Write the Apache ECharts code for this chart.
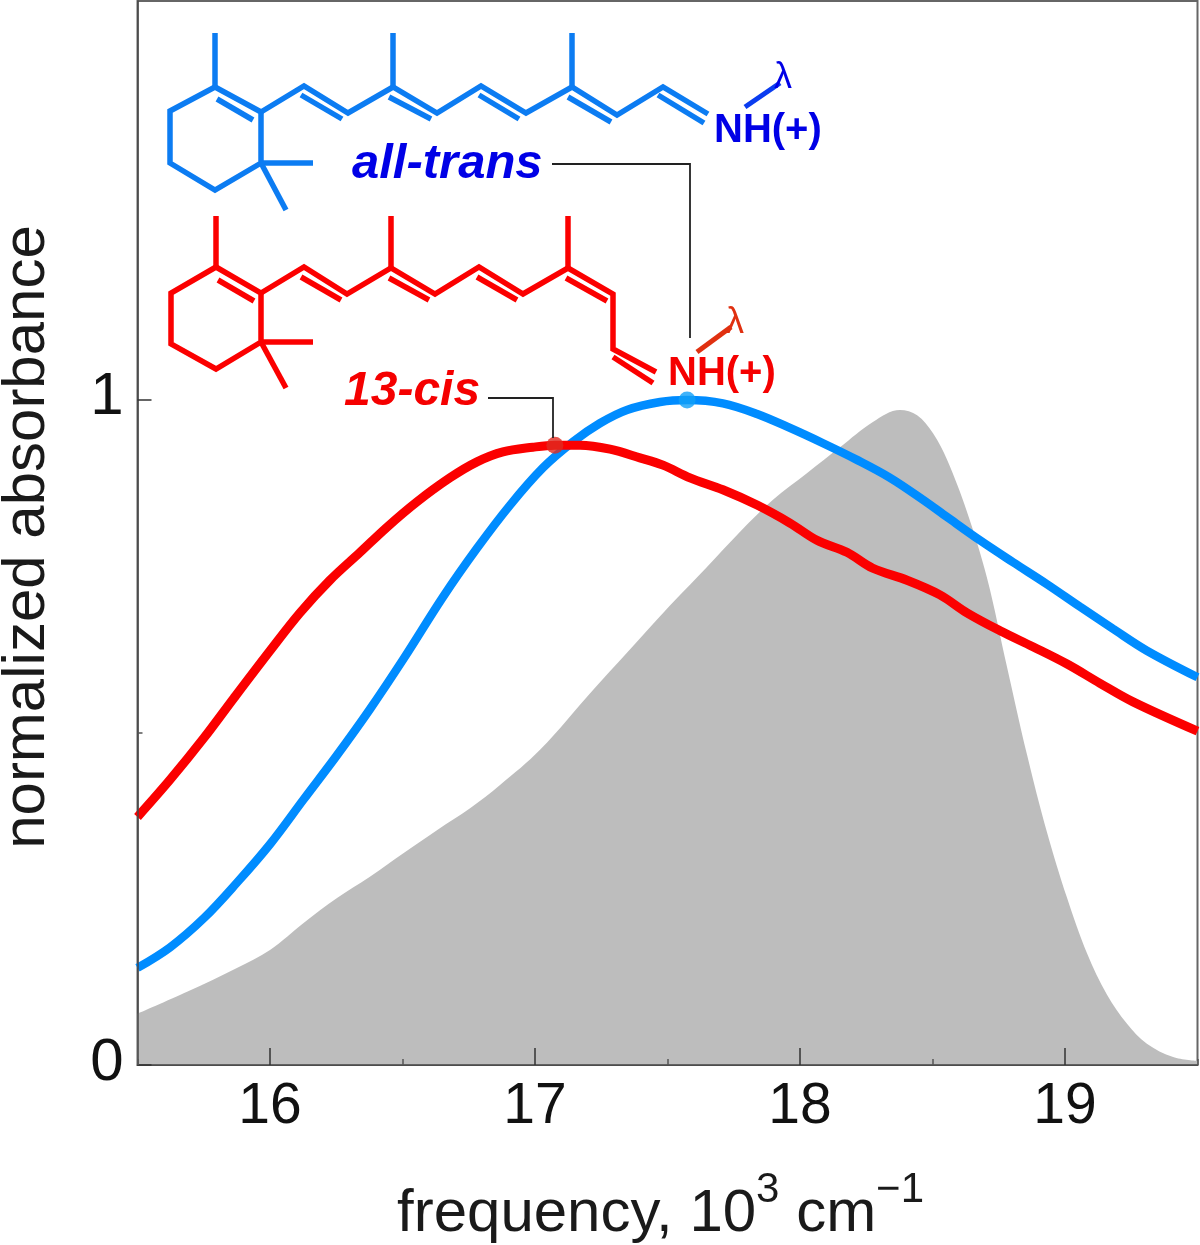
<!DOCTYPE html>
<html><head><meta charset="utf-8">
<style>html,body{margin:0;padding:0;background:#fff}#c{width:1200px;height:1245px}</style>
<script src="https://cdn.jsdelivr.net/npm/echarts@6/dist/echarts.min.js"></script>
</head><body><div id="c"></div>
<script>
const xTicks=[16,17,18,19];
const xMinorTicks=[15.5,16.5,17.5,18.5,19.5];
const yTicks=[0,1];
const yMinorTicks=[0.5];
const allTrans=[[15.5,0.146],[15.623,0.177],[15.751,0.221],[15.875,0.274],[16.0,0.332],[16.128,0.400],[16.253,0.466],[16.377,0.535],[16.506,0.612],[16.653,0.704],[16.781,0.777],[16.906,0.842],[17.030,0.898],[17.143,0.937],[17.245,0.965],[17.347,0.985],[17.472,0.997],[17.574,1.0],[17.709,0.995],[17.838,0.979],[17.962,0.958],[18.087,0.935],[18.215,0.910],[18.340,0.883],[18.464,0.850],[18.555,0.824],[18.679,0.789],[18.804,0.756],[18.932,0.723],[19.057,0.689],[19.181,0.656],[19.309,0.623],[19.5,0.583]];
const cis13=[[15.5,0.373],[15.623,0.429],[15.751,0.492],[15.864,0.552],[16.0,0.623],[16.113,0.680],[16.226,0.729],[16.340,0.771],[16.442,0.809],[16.555,0.847],[16.679,0.883],[16.781,0.907],[16.879,0.922],[16.992,0.929],[17.075,0.932],[17.170,0.932],[17.283,0.926],[17.396,0.913],[17.483,0.902],[17.585,0.883],[17.709,0.865],[17.838,0.842],[17.962,0.815],[18.064,0.789],[18.177,0.771],[18.275,0.747],[18.404,0.729],[18.528,0.707],[18.630,0.680],[18.755,0.653],[18.879,0.629],[19.008,0.603],[19.132,0.574],[19.257,0.546],[19.5,0.502]];
const greyBand=[[15.5,0.077],[15.687,0.110],[15.875,0.146],[16.0,0.173],[16.128,0.214],[16.253,0.251],[16.377,0.283],[16.506,0.319],[16.630,0.353],[16.755,0.386],[16.868,0.421],[17.019,0.474],[17.219,0.564],[17.347,0.620],[17.472,0.675],[17.521,0.696],[17.649,0.749],[17.774,0.802],[17.898,0.850],[18.026,0.890],[18.151,0.929],[18.275,0.967],[18.377,0.985],[18.442,0.977],[18.502,0.950],[18.555,0.910],[18.630,0.832],[18.706,0.732],[18.781,0.599],[18.857,0.466],[18.932,0.350],[19.008,0.251],[19.083,0.168],[19.158,0.106],[19.234,0.062],[19.309,0.032],[19.408,0.012],[19.5,0.006]];
const peakAllTrans=[[17.574,1.0]];
const peakCis=[[17.075,0.932]];

const FONT='"Liberation Sans", Arial, sans-serif';
const BLUE='#008cff', RED='#fb0000', MOLBLUE='#0c7cf2', TXTBLUE='#0000e6';

// structural-formula artwork (pixel layout of the annotation)
const blueBonds=[
 [[215,87],[261,112],[261,163],[215,190],[170,163],[170,111],[215,87]],
 [[215,33],[215,87]],[[217,99],[253,120]],
 [[261,112],[304,86],[348,113],[393,87],[437,113],[481,86],[526,113],[572,87],[617,115],[663,87],[708,114]],
 [[301,95],[342,119]],[[389,97],[431,119]],[[479,95],[519,119]],[[568,97],[611,122]],[[658,95],[704,123]],
 [[393,33],[393,87]],[[572,33],[572,87]],
 [[261,163],[313,163]],[[261,163],[286,210]]
];
const redBonds=[
 [[216,267],[261,293],[261,342],[216,369],[171,344],[171,293],[216,267]],
 [[216,216],[216,267]],[[218,280],[254,301]],
 [[261,293],[304,267],[347,294],[391,268],[435,294],[479,267],[523,294],[568,268],[613,294],[613,349],[656,372]],
 [[301,277],[341,300]],[[389,278],[429,300]],[[477,277],[517,300]],[[566,278],[607,301]],[[613,357],[653,383]],
 [[391,216],[391,268]],[[568,216],[568,268]],
 [[261,342],[313,342]],[[261,342],[286,388]]
];
const poly=(pts,color,w)=>({type:'polyline',z:20,shape:{points:pts},style:{stroke:color,lineWidth:w,fill:null,lineJoin:'miter'}});
const txt=(s,x,y,size,color,italic)=>({type:'text',z:21,x,y,style:{text:s,font:`${italic?'italic ':''}bold ${size}px ${FONT}`,fill:color,textAlign:'left',textVerticalAlign:'middle'}});
const graphics=[
 ...blueBonds.map(p=>poly(p,MOLBLUE,5.5)),
 ...redBonds.map(p=>poly(p,RED,5.5)),
 poly([[745,107],[780,83]],'#0a3cf0',5),
 poly([[697,352],[731,327]],'#e03010',5),
 {type:'text',z:21,x:783,y:78,style:{text:'λ',font:`36px ${FONT}`,fill:'#0000e6',textAlign:'center',textVerticalAlign:'middle'}},
 {type:'text',z:21,x:735,y:323,style:{text:'λ',font:`36px ${FONT}`,fill:'#e03010',textAlign:'center',textVerticalAlign:'middle'}},
 txt('NH(+)',714,131,40,TXTBLUE,false),
 txt('NH(+)',668,374,40,'#f50000',false),
 txt('all-trans',352,164,49,TXTBLUE,true),
 txt('13-cis',344,392,48,'#f50000',true),
 poly([[552,164],[690,164],[690,338]],'#222',1.8),
 poly([[488,398],[553,398],[553,438]],'#222',1.8)
];

const baseX={type:'value',min:15.5,max:19.5,axisLine:{show:false},splitLine:{show:false},z:10};
const baseY={type:'value',min:0,max:1.6,axisLine:{show:false},splitLine:{show:false},z:10};
const chart=echarts.init(document.getElementById('c'),null,{renderer:'canvas'});
chart.setOption({
 animation:false,backgroundColor:'#fff',
 grid:{left:137.5,right:2.5,top:1,bottom:180,outerBoundsMode:'none',containLabel:false,show:true,borderColor:'#666',borderWidth:2,backgroundColor:'transparent'},
 xAxis:[
  {...baseX,position:'bottom',axisLine:{show:true,lineStyle:{color:'#444',width:1.5}},
   axisTick:{inside:true,length:17,customValues:xTicks,lineStyle:{color:'#333',width:1.5}},
   axisLabel:{customValues:xTicks,margin:14,fontSize:57,fontFamily:FONT,color:'#111',formatter:v=>String(v)},
   name:'{a|frequency, 10}{s|3}{a| cm}{s|−1}',nameLocation:'middle',nameGap:104,
   nameTextStyle:{padding:[0,14,0,0],rich:{a:{fontSize:60,fontFamily:FONT,color:'#1a1a1a',verticalAlign:'bottom'},s:{fontSize:42,fontFamily:FONT,color:'#1a1a1a',verticalAlign:'top',padding:[0,0,33,0]}}}},
  {...baseX,position:'bottom',axisLabel:{show:false},
   axisTick:{inside:true,length:6,customValues:xMinorTicks,lineStyle:{color:'#555',width:1.5}}}
 ],
 yAxis:[
  {...baseY,position:'left',axisLine:{show:true,lineStyle:{color:'#444',width:1.5}},
   axisTick:{inside:true,length:14,customValues:yTicks,lineStyle:{color:'#333',width:1.5}},
   axisLabel:{customValues:yTicks,margin:14,color:'#111',fontFamily:FONT,
     formatter:v=>v===0?'{z|0}':'{o|1}',
     rich:{z:{fontSize:60,fontFamily:FONT,color:'#111',padding:[0,0,4,0]},o:{fontSize:60,fontFamily:FONT,color:'#111',padding:[0,0,6,0]}}},
   name:'normalized absorbance',nameLocation:'middle',nameGap:80,nameRotate:90,
   nameTextStyle:{fontSize:60,fontFamily:FONT,color:'#1a1a1a',padding:[0,8,0,0]}},
  {...baseY,position:'left',axisLabel:{show:false},
   axisTick:{inside:true,length:5,customValues:yMinorTicks,lineStyle:{color:'#555',width:1.5}}}
 ],
 series:[
  {type:'line',name:'band',data:greyBand,smooth:0.35,showSymbol:false,clip:false,lineStyle:{width:0},areaStyle:{color:'#bdbdbd',opacity:1},z:1},
  {type:'line',name:'all-trans',data:allTrans,smooth:0.35,showSymbol:false,clip:false,lineStyle:{color:BLUE,width:8.5,cap:'butt'},z:3},
  {type:'line',name:'13-cis',data:cis13,smooth:0.35,showSymbol:false,clip:false,lineStyle:{color:RED,width:9,cap:'butt'},z:4},
  {type:'scatter',data:peakAllTrans,symbolSize:17,itemStyle:{color:'#12a0f8'},z:5},
  {type:'scatter',data:peakCis,symbolSize:17,itemStyle:{color:'#e02a20'},z:5}
 ],
 graphic:graphics
});
</script></body></html>
